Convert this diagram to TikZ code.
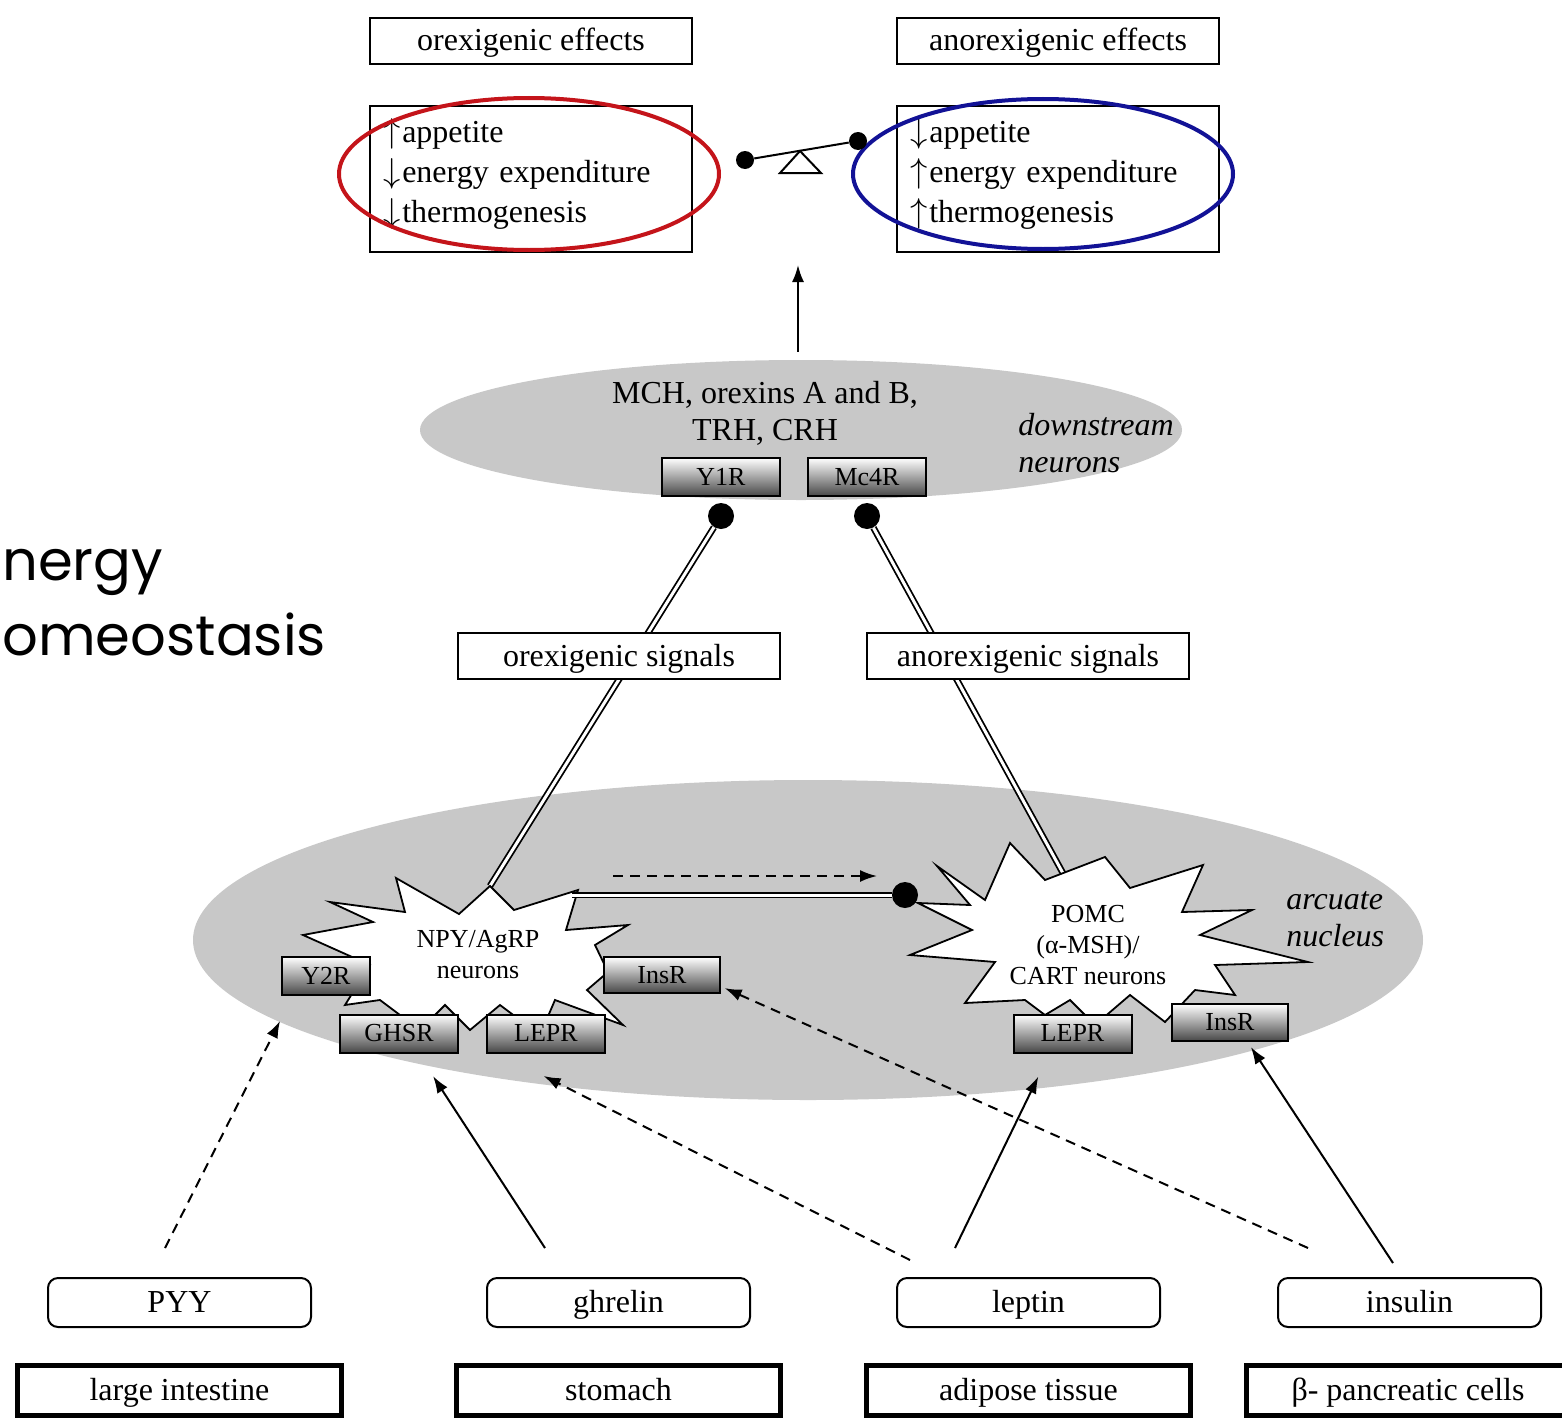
\documentclass[tikz,border=0pt]{standalone}
\usepackage{fontspec}
\setmainfont{Liberation Serif}
\newfontfamily\gothic{Poppins}
\usetikzlibrary{positioning,arrows.meta,shapes.geometric}
\definecolor{ringred}{RGB}{196,20,26}
\definecolor{ringblue}{RGB}{18,18,150}
\definecolor{nucleus}{RGB}{200,200,200}

\begin{document}
\begin{tikzpicture}[x=0.5pt, y=-0.5pt, >={Latex[length=8.5pt,width=6pt]},
  lbl/.style={draw, line width=1pt, fill=white, minimum width=161pt, minimum height=23pt, inner sep=0pt, text height=13pt, text depth=3pt, font=\fontsize{16pt}{20pt}\selectfont},
  effbox/.style={draw, line width=1pt, fill=white, minimum width=161pt, minimum height=73pt},
  efftext/.style={text width=148pt, align=left, inner sep=0pt, font=\fontsize{16pt}{20pt}\selectfont},
  hormone/.style={draw, line width=1pt, rounded corners=5pt, minimum width=131.5pt, minimum height=24.5pt, text height=13pt, text depth=3pt, font=\fontsize{16pt}{20pt}\selectfont},
  organ/.style={draw, line width=2.5pt, minimum width=162pt, minimum height=25pt, text height=13pt, text depth=3pt, font=\fontsize{16pt}{20pt}\selectfont},
  receptor/.style={draw, line width=1pt, top color=white, bottom color=black!72, minimum width=59pt, minimum height=19pt, inner sep=0pt, text height=10pt, text depth=2pt, font=\fontsize{13pt}{15pt}\selectfont},
  region/.style={ellipse, fill=nucleus, inner sep=0pt},
  blob/.style={circle, fill=black, inner sep=0pt, minimum size=13pt},
  axon/.style={double, double distance=1.5pt, line width=0.9pt},
  star/.style={draw, fill=white, line width=0.9pt, line join=miter},
  tag/.style={anchor=west, inner sep=0pt, align=left, font=\itshape\fontsize{16pt}{18.5pt}\selectfont},
  signal/.style={->, line width=1pt},
  dsignal/.style={->, line width=1pt, dash pattern=on 5pt off 3.5pt}
]
\useasboundingbox (0,0) rectangle (1562,1418);

\node[anchor=base west, inner sep=0pt, font=\gothic\fontsize{28pt}{34pt}\selectfont] (ttl1) at (2,580) {nergy};
\node[anchor=base west, inner sep=0pt, font=\gothic\fontsize{28pt}{34pt}\selectfont] (ttl2) at (2,655) {omeostasis};

% effects and the balance
\node[lbl] (orexT) at (531,41) {orexigenic effects};
\node[lbl] (anorexT) at (1058,41) {anorexigenic effects};
\node[effbox] (orexE) at (531,179) {};
\node[effbox] (anorexE) at (1058,179) {};
\node[efftext] (orexEt) at (531,174) {$\uparrow$\hspace{1pt}appetite\\ $\downarrow$\hspace{1pt}energy expenditure\\ $\downarrow$\hspace{1pt}thermogenesis};
\node[efftext] (anorexEt) at (1058,174) {$\downarrow$\hspace{1pt}appetite\\ $\uparrow$\hspace{1pt}energy expenditure\\ $\uparrow$\hspace{1pt}thermogenesis};
\draw[ringred, line width=2pt] (529,174) ellipse [x radius=190, y radius=76];
\draw[ringblue, line width=2pt] (1043,174) ellipse [x radius=190, y radius=75];
\node[blob, minimum size=9pt] (pivL) at (745,160) {};
\node[blob, minimum size=9pt] (pivR) at (858,141) {};
\draw[line width=1pt] (pivL) -- (pivR);
\draw[line width=1pt] (800,151) -- (780,173) -- (821,173) -- cycle;

% downstream neurons
\node[region, minimum width=381pt, minimum height=70pt] (down) at (801,430) {};
\coordinate (upend) at (798,265);
\draw[signal, shorten <=4pt] (down.north -| upend) -- (upend);
\node[align=center, inner sep=0pt, font=\fontsize{16pt}{18.5pt}\selectfont] (mch) at (765,413) {MCH, orexins A and B,\\TRH, CRH};
\node[tag] (dsn) at (1018,443) {downstream\\neurons};
\node[receptor] (y1r) at (721,477) {Y1R};
\node[receptor] (mc4r) at (867,477) {Mc4R};
\node[blob] (y1rdot) at (721,516) {};
\node[blob] (mc4rdot) at (867,516) {};

% arcuate nucleus
\node[region, minimum width=615pt, minimum height=160pt] (arc) at (808,940) {};
\node[tag] (arclbl) at (1286,919) {arcuate\\nucleus};
\coordinate (npytip) at (490,886);
\coordinate (pomctip) at (1070,886);
\draw[axon] (y1rdot) -- (npytip);
\draw[axon] (mc4rdot) -- (pomctip);

\draw[star] (303,935) -- (373,922) -- (330,902) -- (405,912) -- (396,878) -- (459,914) -- (490,886) -- (514,910) -- (578,890) -- (566,930) -- (628,925) -- (595,945) -- (608,972) -- (587,990) -- (623,1025) -- (555,1000) -- (540,1035) -- (500,1005) -- (470,1030) -- (445,1005) -- (420,1030) -- (380,1000) -- (345,1005) -- (370,965) -- cycle;
\draw[star] (937,866) -- (985,900) -- (1010,843) -- (1045,880) -- (1105,857) -- (1130,888) -- (1203,865) -- (1182,912) -- (1252,910) -- (1200,935) -- (1308,962) -- (1215,965) -- (1235,995) -- (1195,990) -- (1165,1022) -- (1130,995) -- (1095,1025) -- (1070,1000) -- (1045,1015) -- (1025,1000) -- (965,1003) -- (995,962) -- (910,955) -- (972,930) -- (918,903) -- (970,905) -- cycle;
\node[align=center, inner sep=0pt, font=\fontsize{13pt}{15.5pt}\selectfont] (npy) at (478,955) {NPY/AgRP\\neurons};
\node[align=center, inner sep=0pt, font=\fontsize{13pt}{15.5pt}\selectfont] (pomc) at (1088,945) {POMC\\(α-MSH)/\\CART neurons};

\coordinate (npyout) at (572,895);
\node[blob] (pomcdot) at (905,895) {};
\draw[axon] (npyout) -- (pomcdot);
\coordinate (dsA) at (613,876);
\coordinate (dsB) at (877,876);
\draw[dsignal] (dsA) -- (dsB);

\node[receptor, minimum width=44pt] (y2r) at (326,976) {Y2R};
\node[receptor] (ghsr) at (399,1033.5) {GHSR};
\node[receptor] (leprL) at (546,1033.5) {LEPR};
\node[receptor, minimum width=58pt, minimum height=18pt] (insL) at (662,975) {InsR};
\node[receptor] (leprR) at (1072.5,1033.5) {LEPR};
\node[receptor, minimum width=58pt, minimum height=18.5pt] (insR) at (1230,1022.5) {InsR};

\node[lbl] (orexS) at (619,656) {orexigenic signals};
\node[lbl] (anorexS) at (1028,656) {anorexigenic signals};

% periphery
\node[hormone] (pyy) at (179.5,1302.5) {PYY};
\node[hormone] (ghrelin) at (618.5,1302.5) {ghrelin};
\node[hormone] (leptin) at (1028.5,1302.5) {leptin};
\node[hormone] (insulin) at (1409.5,1302.5) {insulin};
\node[organ] (colon) at (179.5,1390) {large intestine};
\node[organ] (stomach) at (618.5,1390) {stomach};
\node[organ] (adipose) at (1028.5,1390) {adipose tissue};
\node[organ] (beta) at (1408,1390) {β- pancreatic cells};

\coordinate (pyyS) at (165,1248);
\coordinate (ghrS) at (545,1248);
\coordinate (lepS1) at (910,1260);
\coordinate (lepS2) at (955,1248);
\coordinate (insS1) at (1308,1248);
\coordinate (insS2) at (1393,1263);
\draw[dsignal, shorten >=14pt] (pyyS) -- (y2r.-149);
\draw[signal, shorten >=13.5pt] (ghrS) -- (ghsr.-46);
\draw[dsignal, shorten >=25pt] (lepS1) -- (leprL.-157);
\draw[signal, shorten >=12.8pt] (lepS2) -- (leprR.-139);
\draw[dsignal, shorten >=2pt] (insS1) -- (insL.-11);
\draw[signal, shorten >=3pt] (insS2) -- (insR.-48);
\end{tikzpicture}
\end{document}
